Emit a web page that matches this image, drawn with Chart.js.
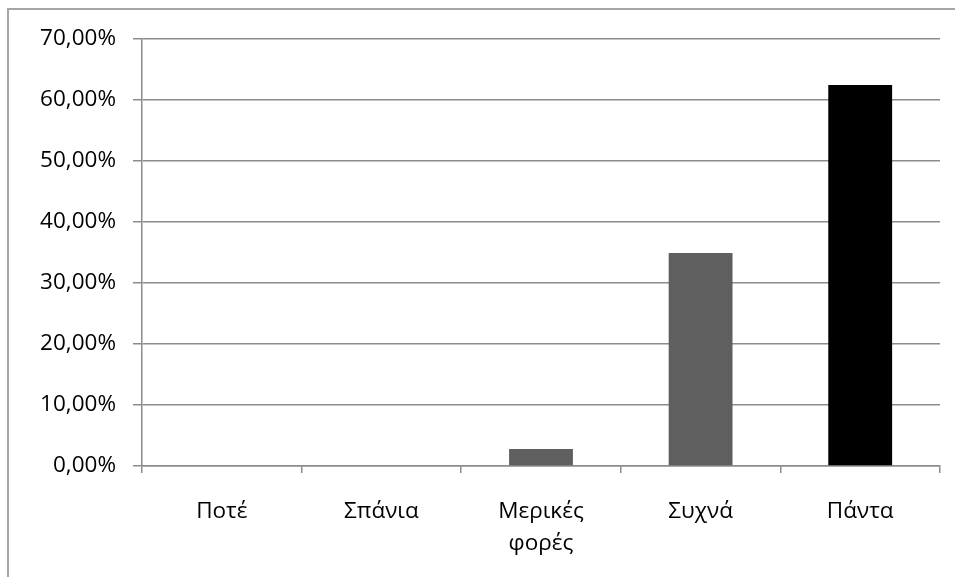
<!DOCTYPE html>
<html>
<head>
<meta charset="utf-8">
<script src="https://cdn.jsdelivr.net/npm/chart.js@4.4.0/dist/chart.umd.min.js"></script>
<style>
  html, body { margin: 0; padding: 0; background: #fff; }
  #wrap { width: 955px; height: 577px; }
</style>
</head>
<body>
<div id="wrap"><canvas id="barChart" width="955" height="577"></canvas></div>
<script>
const categories = ['Ποτέ', 'Σπάνια', ['Μερικές', 'φορές'], 'Συχνά', 'Πάντα'];
const percentValues = [0, 0, 2.78, 34.9, 62.45];
const barColors = ['#5f5f5f', '#5f5f5f', '#5f5f5f', '#5f5f5f', '#000000'];
const yMax = 70;
const yStep = 10;

// frame around the picture (only left and top edges are visible)
const framePlugin = {
  id: 'frame',
  beforeDraw(chart) {
    const ctx = chart.ctx;
    ctx.save();
    ctx.strokeStyle = '#a6a6a6';
    ctx.lineWidth = 2;
    ctx.beginPath();
    ctx.moveTo(8, chart.height);
    ctx.lineTo(8, 9);
    ctx.lineTo(chart.width, 9);
    ctx.stroke();
    ctx.restore();
  }
};

const fontFamily = "'Open Sans', 'Noto Sans', sans-serif";

new Chart(document.getElementById('barChart'), {
  type: 'bar',
  data: {
    labels: categories,
    datasets: [{
      data: percentValues,
      backgroundColor: barColors,
      borderWidth: 0,
      barPercentage: 0.4,
      categoryPercentage: 1.0
    }]
  },
  options: {
    responsive: false,
    animation: false,
    layout: { padding: { top: 39, right: 15, left: 0, bottom: 0 } },
    plugins: {
      legend: { display: false },
      tooltip: { enabled: false }
    },
    scales: {
      x: {
        grid: {
          drawOnChartArea: false,
          drawTicks: true,
          tickLength: 7,
          color: '#8c8c8c',
          lineWidth: 1.5,
          offset: true
        },
        border: { color: '#8c8c8c', width: 1.5 },
        ticks: {
          color: '#000',
          padding: 22,
          maxRotation: 0,
          autoSkip: false,
          font: { family: fontFamily, size: 22.5, lineHeight: 1.45 }
        },
        afterFit(scale) { scale.height = 111; }
      },
      y: {
        min: 0,
        max: yMax,
        grid: {
          color: '#8c8c8c',
          lineWidth: 1.5,
          tickLength: 9
        },
        border: { color: '#8c8c8c', width: 1.5 },
        ticks: {
          stepSize: yStep,
          color: '#000',
          padding: 17,
          font: { family: fontFamily, size: 22.5 },
          callback: v => v.toFixed(2).replace('.', ',') + '%'
        },
        afterFit(scale) { scale.width = 142; }
      }
    }
  },
  plugins: [framePlugin]
});
</script>
</body>
</html>
